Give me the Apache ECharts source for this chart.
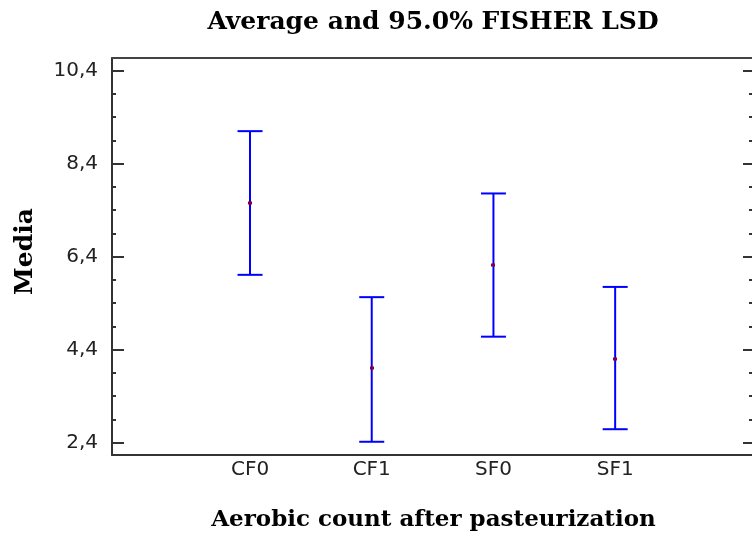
<!DOCTYPE html>
<html><head><meta charset="utf-8">
<script src="https://cdn.jsdelivr.net/npm/echarts@6/dist/echarts.min.js"></script>
<style>html,body{margin:0;padding:0;background:#fff}#c{width:752px;height:539px}</style>
</head><body><div id="c"></div>
<script>
const categories = ['CF0', 'CF1', 'SF0', 'SF1'];
const means  = [7.55, 4.00, 6.22, 4.21];
const lowers = [6.01, 2.42, 4.68, 2.69];
const uppers = [9.10, 5.53, 7.76, 5.75];
const yTicks = [2.4, 4.4, 6.4, 8.4, 10.4];
const yMinorTicks = [2.9, 3.4, 3.9, 4.9, 5.4, 5.9, 6.9, 7.4, 7.9, 8.9, 9.4, 9.9];
const titleText = 'Average and 95.0% FISHER LSD';
const xName = 'Aerobic count after pasteurization';
const yName = 'Media';

const chart = echarts.init(document.getElementById('c'), null, {renderer: 'canvas'});
const Y_MIN = 2.1355, Y_MAX = 10.673;
const X_MIN = -1.134, X_MAX = 4.149;
const axisColor = '#333';
const labelFont = {fontFamily: 'DejaVu Sans', fontSize: 20, color: '#222'};
const serifBold = {fontFamily: 'DejaVu Serif', fontWeight: 'bold', color: '#000'};

function yAxisDef(pos, ticks, len, withLine, withLabels) {
  return {
    type: 'value', position: pos, min: Y_MIN, max: Y_MAX,
    splitLine: {show: false},
    axisLine: {show: withLine, onZero: false, lineStyle: {color: axisColor, width: 2}},
    axisTick: {show: true, inside: true, length: len, customValues: ticks, lineStyle: {color: axisColor, width: 2}},
    axisLabel: withLabels ? Object.assign({show: true, margin: 14, customValues: yTicks,
      formatter: v => (Math.round(v * 10) / 10).toFixed(1).replace('.', ',')}, labelFont) : {show: false},
    name: withLabels ? yName : '',
    nameLocation: 'middle', nameGap: 74, nameRotate: 90,
    nameTextStyle: Object.assign({fontSize: 25, padding: [0, 0, 0, 10]}, serifBold)
  };
}

chart.setOption({
  animation: false,
  backgroundColor: '#fff',
  grid: {left: 112, top: 58, width: 643, height: 397, containLabel: false, outerBoundsMode: 'none'},
  graphic: [{
    type: 'text', x: 433, y: 22.5,
    style: {text: titleText, font: 'bold 25px "DejaVu Serif"', fill: '#000', align: 'center', verticalAlign: 'middle'}
  }],
  xAxis: [{
    type: 'value', position: 'bottom', min: X_MIN, max: X_MAX,
    splitLine: {show: false},
    axisLine: {show: true, onZero: false, lineStyle: {color: axisColor, width: 2}},
    axisTick: {show: false},
    axisLabel: Object.assign({show: true, margin: 5, customValues: [0, 1, 2, 3],
      formatter: v => categories[Math.round(v)] || ''}, labelFont),
    name: xName, nameLocation: 'middle', nameGap: 54,
    nameTextStyle: Object.assign({fontSize: 23}, serifBold)
  }, {
    type: 'value', position: 'top', min: X_MIN, max: X_MAX,
    splitLine: {show: false},
    axisLine: {show: true, onZero: false, lineStyle: {color: '#444', width: 2}},
    axisTick: {show: false}, axisLabel: {show: false}
  }],
  yAxis: [
    yAxisDef('left', yTicks, 12, true, true),
    yAxisDef('left', yMinorTicks, 4, false, false),
    yAxisDef('right', yTicks, 12, true, false),
    yAxisDef('right', yMinorTicks, 6, false, false)
  ],
  series: [{
    type: 'custom',
    xAxisIndex: 0, yAxisIndex: 0,
    data: categories.map((c, i) => [i, lowers[i], uppers[i], means[i]]),
    encode: {x: 0, y: [1, 2, 3]},
    renderItem: function (params, api) {
      const x = api.value(0);
      const pLo = api.coord([x, api.value(1)]);
      const pHi = api.coord([x, api.value(2)]);
      const pM = api.coord([x, api.value(3)]);
      const hw = 12.5;
      const st = {stroke: '#0000ff', lineWidth: 2};
      const cx = Math.round(pM[0]), cy = Math.round(pM[1]);
      return {type: 'group', children: [
        {type: 'line', shape: {x1: pLo[0], y1: pLo[1], x2: pHi[0], y2: pHi[1]}, style: st},
        {type: 'line', shape: {x1: pLo[0] - hw, y1: pLo[1], x2: pLo[0] + hw, y2: pLo[1]}, style: st},
        {type: 'line', shape: {x1: pHi[0] - hw, y1: pHi[1], x2: pHi[0] + hw, y2: pHi[1]}, style: st},
        {type: 'rect', shape: {x: cx - 2, y: cy - 1.5, width: 4, height: 3}, style: {fill: '#8b0030'}}
      ]};
    }
  }]
});
</script></body></html>
